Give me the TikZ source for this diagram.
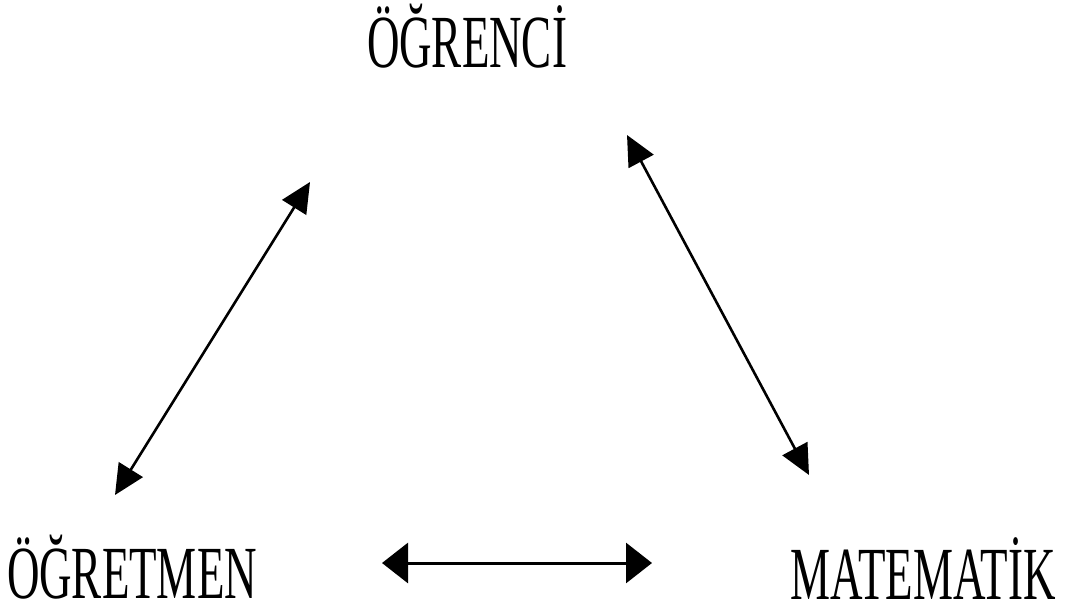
\documentclass[tikz,border=0pt]{standalone}
\usepackage{fontspec}
\newfontfamily\labelfont[FakeStretch=0.6]{Liberation Serif}
\usetikzlibrary{arrows.meta}

\begin{document}
\begin{tikzpicture}[
  x=1pt, y=-1pt,
  lbl/.style={font=\labelfont\fontsize{75}{75}\selectfont, inner sep=0pt, anchor=base},
  link/.style={{Triangle[length=30pt, width=28pt]}-{Triangle[length=30pt, width=28pt]}, line width=2.6pt},
  flat/.style={{Triangle[length=26pt, width=40pt]}-{Triangle[length=26pt, width=40pt]}, line width=3pt}
]
\useasboundingbox (0,0) rectangle (1070,610);
% labels
\node[lbl] (student) at (467,67) {ÖĞRENCİ};
\node[lbl] (teacher) at (132,598) {ÖĞRETMEN};
\node[lbl] (math) at (923,599) {MATEMATİK};
% arrow ends
\coordinate (tl) at (115,495);
\coordinate (tu) at (310,182);
\coordinate (mu) at (627,135);
\coordinate (ml) at (809,475);
\coordinate (bl) at (382,563);
\coordinate (br) at (652,563);
\draw[link] (tl) -- (tu);
\draw[link] (mu) -- (ml);
\draw[flat] (bl) -- (br);
\end{tikzpicture}
\end{document}
